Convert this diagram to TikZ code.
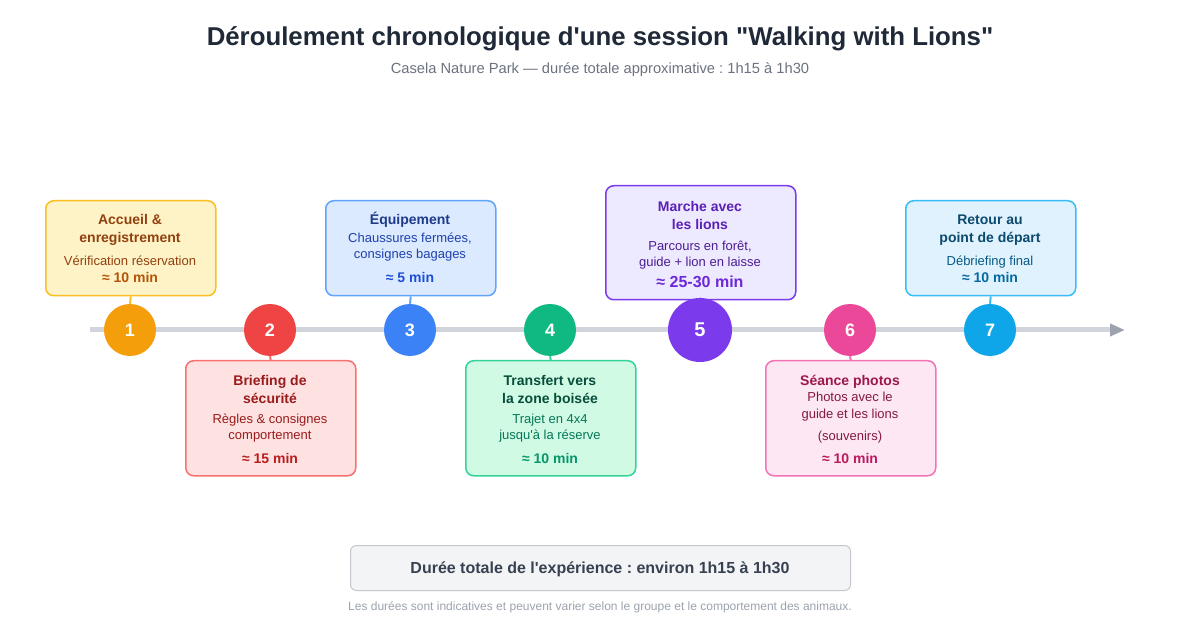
\documentclass[tikz,border=0pt]{standalone}
\usepackage{fontspec}
\newfontfamily\lsans{Liberation Sans}
\usetikzlibrary{arrows.meta}
\frenchspacing
\definecolor{titleC}{HTML}{1F2937}
\definecolor{subC}{HTML}{6B7280}
\definecolor{lineG}{HTML}{D1D5DB}
\definecolor{arrG}{HTML}{9CA3AF}
\definecolor{noteC}{HTML}{9CA3AF}
\definecolor{totF}{HTML}{F3F4F6}
\definecolor{totB}{HTML}{C4C8CE}
\definecolor{totT}{HTML}{374151}
% amber
\definecolor{amC}{HTML}{F59E0B}\definecolor{amB}{HTML}{FBBF24}\definecolor{amF}{HTML}{FEF3C7}
\definecolor{amT}{HTML}{92400E}\definecolor{amD}{HTML}{B45309}
% red
\definecolor{rdC}{HTML}{EF4444}\definecolor{rdB}{HTML}{F87171}\definecolor{rdF}{HTML}{FEE2E2}
\definecolor{rdT}{HTML}{991B1B}\definecolor{rdD}{HTML}{B91C1C}
% blue
\definecolor{blC}{HTML}{3B82F6}\definecolor{blB}{HTML}{60A5FA}\definecolor{blF}{HTML}{DBEAFE}
\definecolor{blT}{HTML}{1E3A8A}\definecolor{blS}{HTML}{1E40AF}\definecolor{blD}{HTML}{1D4ED8}
% green
\definecolor{grC}{HTML}{10B981}\definecolor{grB}{HTML}{34D399}\definecolor{grF}{HTML}{D1FAE5}
\definecolor{grT}{HTML}{064E3B}\definecolor{grS}{HTML}{047857}\definecolor{grD}{HTML}{059669}
% purple
\definecolor{puC}{HTML}{7C3AED}\definecolor{puB}{HTML}{7C3AED}\definecolor{puF}{HTML}{EDE9FE}
\definecolor{puT}{HTML}{5B21B6}\definecolor{puS}{HTML}{4C1D95}\definecolor{puD}{HTML}{6D28D9}
% pink
\definecolor{pkC}{HTML}{EC4899}\definecolor{pkB}{HTML}{F472B6}\definecolor{pkF}{HTML}{FCE7F3}
\definecolor{pkT}{HTML}{9D174D}\definecolor{pkS}{HTML}{831843}\definecolor{pkD}{HTML}{BE185D}
% sky
\definecolor{skC}{HTML}{0EA5E9}\definecolor{skB}{HTML}{38BDF8}\definecolor{skF}{HTML}{E0F2FE}
\definecolor{skT}{HTML}{0C4A6E}\definecolor{skS}{HTML}{075985}\definecolor{skD}{HTML}{0369A1}
\begin{document}
\begin{tikzpicture}[x=1pt,y=-1pt,
  base/.style={inner sep=0pt, anchor=base, align=center},
  ttl/.style={base, font=\lsans\bfseries\fontsize{14}{16}\selectfont},
  dsc/.style={base, font=\lsans\fontsize{13}{15}\selectfont},
  dur/.style={base, font=\lsans\bfseries\fontsize{14}{16}\selectfont},
  card/.style={draw, line width=1.5pt, rounded corners=8pt, minimum width=170pt, minimum height=95pt, inner sep=0pt, anchor=north west},
  dot/.style={circle, minimum size=52pt, inner sep=0pt, text=white, font=\lsans\bfseries\fontsize{18}{20}\selectfont},
  link/.style={line width=2pt},
]
\useasboundingbox (0,0) rectangle (1200,620);
\fill[white] (0,0) rectangle (1200,620);

% title
\node[base, font=\lsans\bfseries\fontsize{25.8}{30}\selectfont, text=titleC] (title) at (600,45.3) {Déroulement chronologique d'une session "Walking with Lions"};
\node[base, font=\lsans\fontsize{14.7}{17}\selectfont, text=subC] (subtitle) at (600,73.2) {Casela Nature Park — durée totale approximative : 1h15 à 1h30};

% timeline
\coordinate (tl) at (90,330);
\coordinate (tr) at (1125,330);
\draw[line width=5pt, lineG, -{Triangle[length=15pt,width=12pt,color=arrG]}] (tl) -- (tr);

% cards
\node[card, draw=amB, fill=amF] (b1) at (45,200) {};
\node[card, draw=rdB, fill=rdF, minimum height=115pt] (b2) at (185,360) {};
\node[card, draw=blB, fill=blF] (b3) at (325,200) {};
\node[card, draw=grB, fill=grF, minimum height=115pt] (b4) at (465,360) {};
\node[card, draw=puB, fill=puF, minimum width=190pt, minimum height=114pt] (b5) at (605,185) {};
\node[card, draw=pkB, fill=pkF, minimum height=115pt] (b6) at (765,360) {};
\node[card, draw=skB, fill=skF] (b7) at (905,200) {};

% circles
\node[dot, fill=amC] (c1) at (130,330) {1};
\node[dot, fill=rdC] (c2) at (270,330) {2};
\node[dot, fill=blC] (c3) at (410,330) {3};
\node[dot, fill=grC] (c4) at (550,330) {4};
\node[dot, fill=puC, minimum size=64pt, font=\lsans\bfseries\fontsize{20}{22}\selectfont] (c5) at (700,330) {5};
\node[dot, fill=pkC] (c6) at (850,330) {6};
\node[dot, fill=skC] (c7) at (990,330) {7};

% connectors
\draw[link, amB] (b1.south) -- (c1.north);
\draw[link, rdB] (b2.north) -- (c2.south);
\draw[link, blB] (b3.south) -- (c3.north);
\draw[link, grB] (b4.north) -- (c4.south);
\draw[link, puB] (b5.south) -- (c5.north);
\draw[link, pkB] (b6.north) -- (c6.south);
\draw[link, skB] (b7.south) -- (c7.north);

% card 1
\node[ttl, text=amT] (t1a) at (130,225) {Accueil \&};
\node[ttl, text=amT] (t1b) at (130,243) {enregistrement};
\node[dsc, text=amT] (t1c) at (130,266) {Vérification réservation};
\node[dur, text=amD] (t1d) at (130,283) {≈ 10 min};
% card 2
\node[ttl, text=rdT] (t2a) at (270,385) {Briefing de};
\node[ttl, text=rdT] (t2b) at (270,403) {sécurité};
\node[dsc, text=rdT] (t2c) at (270,423) {Règles \& consignes};
\node[dsc, text=rdT] (t2d) at (270,439) {comportement};
\node[dur, text=rdD] (t2e) at (270,463) {≈ 15 min};
% card 3
\node[ttl, text=blT] (t3a) at (410,225) {Équipement};
\node[dsc, text=blS] (t3b) at (410,243) {Chaussures fermées,};
\node[dsc, text=blS] (t3c) at (410,259) {consignes bagages};
\node[dur, text=blD] (t3d) at (410,283) {≈ 5 min};
% card 4
\node[ttl, text=grT] (t4a) at (550,385) {Transfert vers};
\node[ttl, text=grT] (t4b) at (550,403) {la zone boisée};
\node[dsc, text=grS] (t4c) at (550,423) {Trajet en 4x4};
\node[dsc, text=grS] (t4d) at (550,439) {jusqu'à la réserve};
\node[dur, text=grD] (t4e) at (550,463) {≈ 10 min};
% card 5
\node[ttl, text=puT] (t5a) at (700,212) {Marche avec};
\node[ttl, text=puT] (t5b) at (700,230) {les lions};
\node[dsc, text=puS] (t5c) at (700,251) {Parcours en forêt,};
\node[dsc, text=puS] (t5d) at (700,267) {guide + lion en laisse};
\node[dur, text=puD, font=\lsans\bfseries\fontsize{16}{18}\selectfont] (t5e) at (700,288) {≈ 25-30 min};
% card 6
\node[ttl, text=pkT] (t6a) at (850,385) {Séance photos};
\node[dsc, text=pkS] (t6b) at (850,402) {Photos avec le};
\node[dsc, text=pkS] (t6c) at (850,418) {guide et les lions};
\node[dsc, text=pkS] (t6d) at (850,440) {(souvenirs)};
\node[dur, text=pkD] (t6e) at (850,463) {≈ 10 min};
% card 7
\node[ttl, text=skT] (t7a) at (990,225) {Retour au};
\node[ttl, text=skT] (t7b) at (990,243) {point de départ};
\node[dsc, text=skS] (t7c) at (990,266) {Débriefing final};
\node[dur, text=skD] (t7d) at (990,283) {≈ 10 min};

% total
\node[draw=totB, fill=totF, line width=1pt, rounded corners=6pt, minimum width=500pt, minimum height=45pt, inner sep=0pt, anchor=north west] (total) at (350,545) {};
\node[base, font=\lsans\bfseries\fontsize{16}{18}\selectfont, text=totT] (totaltxt) at (600,573.5) {Durée totale de l'expérience : environ 1h15 à 1h30};
\node[base, font=\lsans\fontsize{12}{14}\selectfont, text=noteC] (note) at (600,610) {Les durées sont indicatives et peuvent varier selon le groupe et le comportement des animaux.};
\end{tikzpicture}
\end{document}
